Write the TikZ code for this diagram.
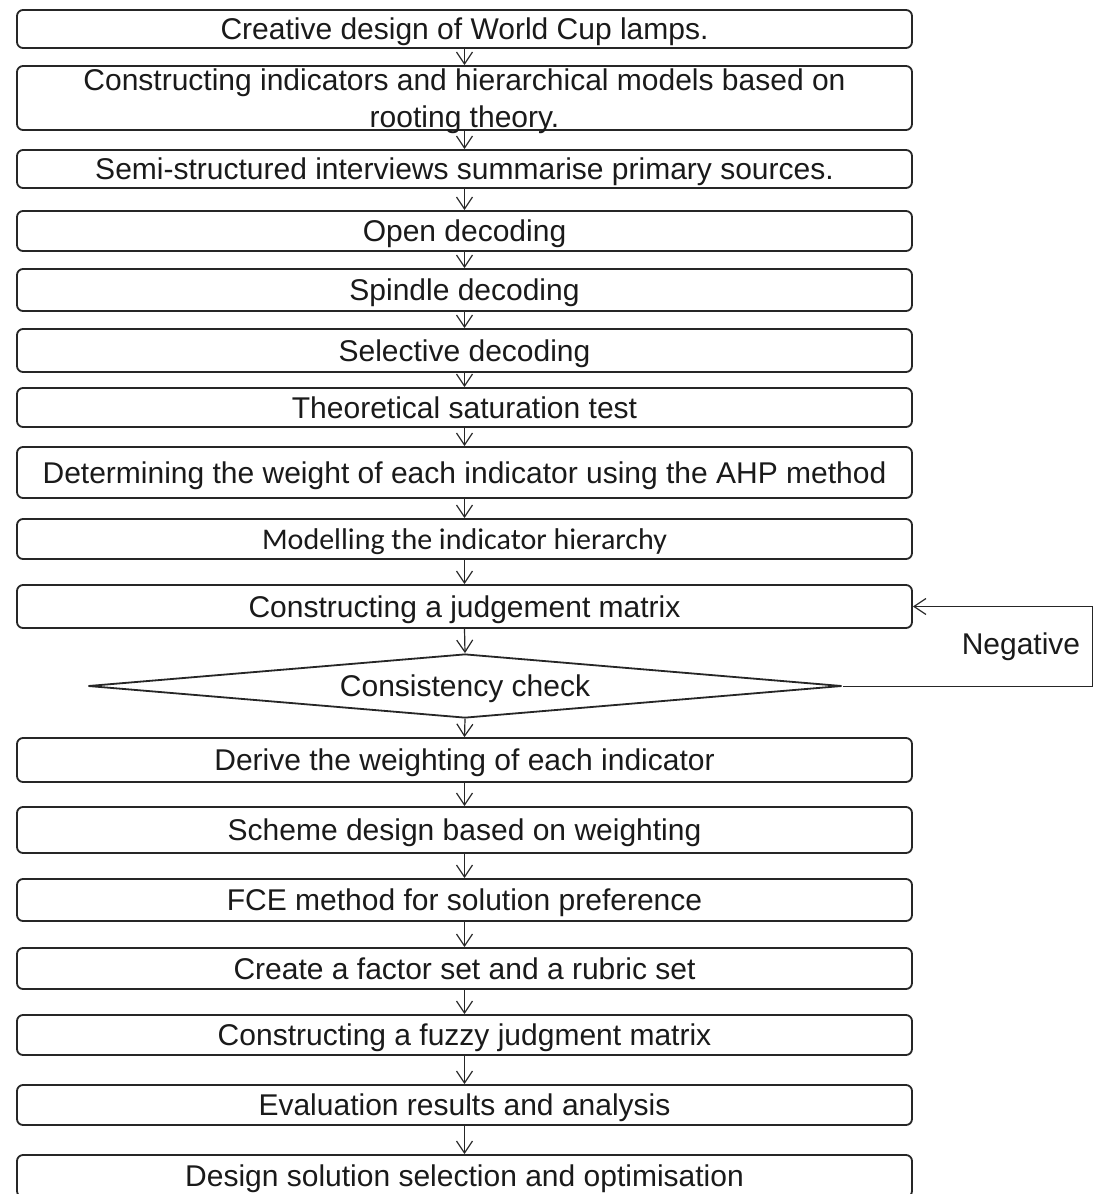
\documentclass[tikz,border=0pt]{standalone}
\usepackage{fontspec}
\setmainfont{Liberation Sans}
\newfontfamily\calibrifont{Carlito}
\usetikzlibrary{shapes.geometric, arrows.meta, positioning}
\definecolor{BoxLine}{HTML}{262626}
\definecolor{FlowText}{HTML}{1A1A1A}

\begin{document}
\begin{tikzpicture}[x=1pt, y=-1pt,
    stepbox/.style={draw=BoxLine, rounded corners=6pt, line width=1.8pt,
      minimum width=895pt, inner sep=0pt, align=center, text=FlowText,
      text height=22.5pt, text depth=1.5pt,
      font=\fontsize{30}{37}\selectfont},
    checknode/.style={draw=BoxLine, diamond, aspect=11.8, line width=1.8pt,
      minimum width=754pt, minimum height=64pt, inner sep=0pt, text=FlowText,
      text height=22.5pt, text depth=1.5pt,
      font=\fontsize{30}{37}\selectfont},
    flow/.style={draw=BoxLine, line width=1.2pt,
      -{Straight Barb[length=12pt, width=16pt, line width=1.2pt]}}]
  \useasboundingbox[fill=white] (0,0) rectangle (1097,1194);

  \node[stepbox, minimum height=38pt] (lamps)  at (464.5,29)   {Creative design of World Cup lamps.};
  \node[stepbox, minimum height=64pt, text height=59.5pt, text depth=0.5pt]
                                      (model)  at (464.5,98)   {Constructing indicators and hierarchical models based on\\rooting theory.};
  \node[stepbox, minimum height=38pt] (interv) at (464.5,169)  {Semi-structured interviews summarise primary sources.};
  \node[stepbox, minimum height=40pt] (open)   at (464.5,231)  {Open decoding};
  \node[stepbox, minimum height=42pt] (spindle) at (464.5,290) {Spindle decoding};
  \node[stepbox, minimum height=43pt] (select) at (464.5,350.5) {Selective decoding};
  \node[stepbox, minimum height=39pt] (satur)  at (464.5,407.5) {Theoretical saturation test};
  \node[stepbox, minimum height=51pt] (ahp)    at (464.5,472.5) {Determining the weight of each indicator using the AHP method};
  \node[stepbox, minimum height=40pt, font=\calibrifont\fontsize{30}{36}\selectfont]
                                      (hier)   at (464.5,539)   {Modelling the indicator hierarchy};
  \node[stepbox, minimum height=43pt] (judge)  at (464.5,606.5) {Constructing a judgement matrix};
  \node[checknode]                    (check)  at (465,686)     {Consistency check};
  \node[stepbox, minimum height=44pt] (derive) at (464.5,760)   {Derive the weighting of each indicator};
  \node[stepbox, minimum height=46pt] (scheme) at (464.5,830)   {Scheme design based on weighting};
  \node[stepbox, minimum height=42pt] (fce)    at (464.5,900)   {FCE method for solution preference};
  \node[stepbox, minimum height=41pt] (factor) at (464.5,968.5) {Create a factor set and a rubric set};
  \node[stepbox, minimum height=40pt] (fuzzy)  at (464.5,1035)  {Constructing a fuzzy judgment matrix};
  \node[stepbox, minimum height=40pt] (result) at (464.5,1105)  {Evaluation results and analysis};
  \node[stepbox, minimum height=42pt] (optim)  at (464.5,1176)  {Design solution selection and optimisation};

  % main flow
  \foreach \a/\b in {lamps/model, model/interv, interv/open, open/spindle, spindle/select,
      select/satur, satur/ahp, ahp/hier, hier/judge, judge/check, check/derive,
      derive/scheme, scheme/fce, fce/factor, factor/fuzzy, fuzzy/result, result/optim}
    \draw[flow] (\a.south) -- (\b.north);

  % negative feedback
  \coordinate (turn) at (1092,686);
  \draw[flow, line width=1pt] (check.east) -- (turn) |- node[pos=0.25, left=8pt,
      font=\fontsize{30}{37}\selectfont, text=FlowText] {Negative} (judge.east);
\end{tikzpicture}
\end{document}
